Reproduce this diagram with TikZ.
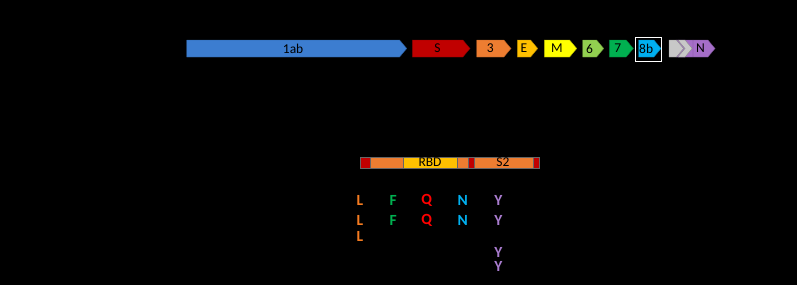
\documentclass[tikz,border=0pt]{standalone}
\usepackage{fontspec}
\setmainfont{Carlito}
\usetikzlibrary{shapes.symbols}
\definecolor{corfab}{HTML}{3C7DD0}
\definecolor{corfS}{HTML}{C00000}
\definecolor{corfthree}{HTML}{ED7D31}
\definecolor{corfE}{HTML}{FFC000}
\definecolor{corfM}{HTML}{FFFF00}
\definecolor{corfsix}{HTML}{92D050}
\definecolor{corfseven}{HTML}{00B050}
\definecolor{corfeight}{HTML}{00B0F0}
\definecolor{corfgrey}{HTML}{C8C8C8}
\definecolor{corfN}{HTML}{A56EC8}
\definecolor{cmutL}{HTML}{F47B20}
\definecolor{cmutY}{HTML}{A97CCF}
\definecolor{cmutQ}{HTML}{FF0000}

\begin{document}
\begin{tikzpicture}[x=1pt, y=-1pt,
    orf/.style={signal, signal to=east, signal pointer angle=100, fill=#1, draw=#1!70!black,
      line width=0.4pt, minimum height=17pt, inner sep=0pt, outer sep=0pt, anchor=west,
      font=\fontsize{13.5}{13.5}\selectfont},
    seglabel/.style={inner sep=0pt, font=\fontsize{13.5}{13.5}\selectfont},
    mut/.style={inner sep=0pt, font=\fontsize{15.5}{15.5}\selectfont\bfseries}]
  \fill[black] (0,0) rectangle (797,285);
  \useasboundingbox (0,0) rectangle (797,285);
  % genome
  \node[orf=corfab, minimum width=220pt] (orfab) at (186.7,48.5) {1ab};
  \node[orf=corfS, minimum width=57.7pt] (orfS) at (412.3,48.5) {S};
  \node[orf=corfthree, minimum width=34.3pt] (orfthree) at (476.7,48.5) {3};
  \node[orf=corfE, minimum width=20.4pt] (orfE) at (517.3,48.5) {E};
  \node[orf=corfM, minimum width=32.4pt] (orfM) at (544.3,48.5) {M};
  \node[orf=corfsix, minimum width=21pt] (orfsix) at (582.7,48.5) {6};
  \node[orf=corfseven, minimum width=24pt] (orfseven) at (609.3,48.5) {7};
  \node[orf=corfeight, minimum width=22.5pt] (orfeight) at (638.5,48.5) {8b};
  \draw[white, line width=1.3pt] (635.5,37.5) rectangle (661.8,61.8);
  \node[orf=corfN, minimum width=24pt] (orfnine) at (676,48.5) {};
  \node[orf=corfgrey, minimum width=14.5pt] (orfgreya) at (669,48.5) {};
  \node[orf=corfN, minimum width=22pt] (orfN) at (693,48.5) {N};
  \node[orf=corfgrey, signal from=west, minimum width=13pt] (orfgreyb) at (685,48.5) {};
  % spike
  \foreach \a/\b/\c in {360/370/corfS, 370/403.3/corfthree, 403.3/456.7/corfE,
      456.7/468.3/corfthree, 468.3/474/corfS, 474/532.7/corfthree, 532.7/538.7/corfS}
    \draw[fill=\c, draw=black!60, line width=0.4pt] (\a,156.7) rectangle (\b,168.3);
  \node[seglabel] (rbd) at (430,162.5) {RBD};
  \node[seglabel] (stwo) at (503,162.5) {S2};
  % mutations
  \foreach \y [count=\i] in {200,220,236.7}
    \node[mut, text=cmutL] (mutL\i) at (360,\y) {L};
  \foreach \y [count=\i] in {200,220} {
    \node[mut, text=corfseven] (mutF\i) at (393.3,\y) {F};
    \node[mut, text=cmutQ] (mutQ\i) at (426.7,\y) {Q};
    \node[mut, text=corfeight] (mutN\i) at (462.7,\y) {N};
  }
  \foreach \y [count=\i] in {200,220,252.7,266.7}
    \node[mut, text=cmutY] (mutY\i) at (498.3,\y) {Y};
\end{tikzpicture}
\end{document}
